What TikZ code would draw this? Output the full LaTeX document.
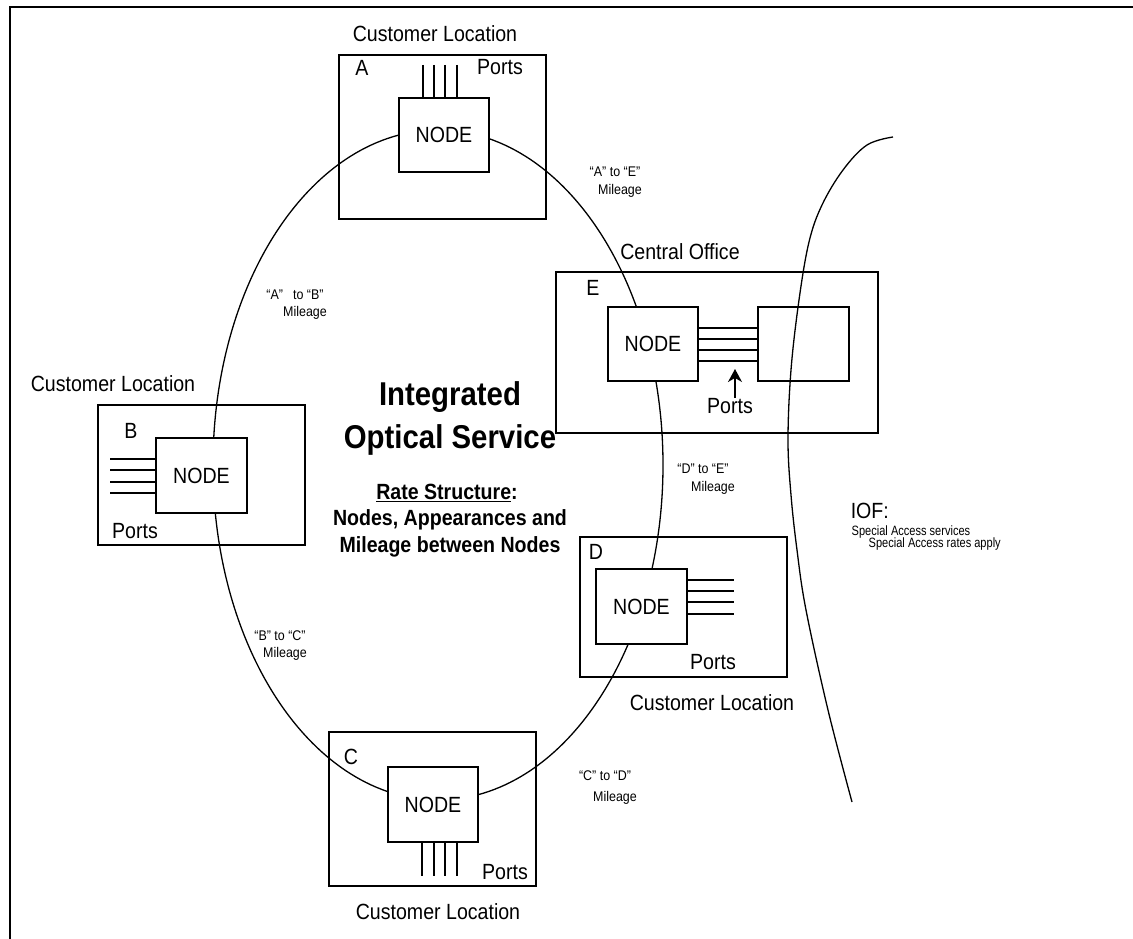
\documentclass[tikz,border=0pt]{standalone}
\usepackage{fontspec}
\setmainfont[FakeStretch=0.89]{Liberation Sans}
\usetikzlibrary{arrows.meta}
\begin{document}
\begin{tikzpicture}[x=1pt,y=-1pt,line width=1.5pt,
  nodebox/.style={draw,fill=white,inner sep=0pt,minimum width=90pt,minimum height=74pt,font=\fontsize{22}{26}\selectfont},
  locbox/.style={draw,inner sep=0pt},
  lbl/.style={inner sep=0pt,font=\fontsize{22}{26}\selectfont},
  title/.style={inner sep=0pt,font=\fontsize{33}{38}\selectfont\bfseries},
  rate/.style={inner sep=0pt,font=\fontsize{22}{26}\selectfont\bfseries},
  mil/.style={inner sep=0pt,font=\fontsize{14}{16}\selectfont},
  small/.style={inner sep=0pt,font=\fontsize{13.5}{15}\selectfont,anchor=west},
  portline/.style={line width=1.3pt}]
\useasboundingbox (0,0) rectangle (1133,939);
% frame
\draw (10,939) -- (10,7) -- (1133,7);
% ring
\draw[line width=1.3pt] (438,465) ellipse [x radius=225pt, y radius=335pt];
% IOF boundary
\draw[line width=1.3pt] plot[smooth,tension=0.6] coordinates {(893,137) (867,145) (843,170) (822,205) (809,242) (799,300) (791,370) (788,440) (791,495) (797,550) (806,610) (828,710) (852,802)};

% location boxes
\node[locbox,minimum width=207pt,minimum height=164pt] (lA) at (442.5,137) {};
\node[locbox,minimum width=322pt,minimum height=161pt] (lE) at (717,352.5) {};
\node[locbox,minimum width=207pt,minimum height=140pt] (lB) at (201.5,475) {};
\node[locbox,minimum width=207pt,minimum height=140pt] (lD) at (683.5,607) {};
\node[locbox,minimum width=207pt,minimum height=154pt] (lC) at (432.5,809) {};

% NODE boxes
\node[nodebox] (nA) at (444,135) {NODE};
\node[nodebox] (nE) at (653,344) {NODE};
\node[nodebox,fill=none,minimum width=91pt] (rE) at (803.5,344) {};
\node[nodebox,minimum width=91pt,minimum height=75pt] (nB) at (201.5,475.5) {NODE};
\node[nodebox,minimum width=91pt,minimum height=75pt] (nD) at (641.5,606.5) {NODE};
\node[nodebox,minimum height=75pt] (nC) at (433,804.5) {NODE};

% port lines
\foreach \x in {423,434,445,457} \draw[portline] (\x,65) -- (\x,0 |- nA.north);
\foreach \y in {328,339,350,361} \draw[portline] (nE.east |- 0,\y) -- (rE.west |- 0,\y);
\foreach \y in {459,470,482,493} \draw[portline] (110,\y) -- (nB.west |- 0,\y);
\foreach \y in {580,591,602,614} \draw[portline] (nD.east |- 0,\y) -- (734,\y);
\foreach \x in {422,434,445,457} \draw[portline] (\x,0 |- nC.south) -- (\x,876);

% labels
\node[lbl] (clA) at (435,34) {Customer Location};
\node[lbl] (tA) at (362,68) {A};
\node[lbl] (pA) at (500,67) {Ports};
\node[lbl] (co) at (680,252) {Central Office};
\node[lbl] (tE) at (593,288) {E};
\node[lbl] (pE) at (730,406) {Ports};
\coordinate (arrowTip) at (735,369);
\draw[line width=1.3pt,-{Stealth[length=13pt,width=14pt,inset=4pt]}] (pE.north -| arrowTip) -- (arrowTip);
\node[lbl] (clB) at (113,384) {Customer Location};
\node[lbl] (tB) at (131,431) {B};
\node[lbl] (pB) at (135,531) {Ports};
\node[lbl] (tD) at (596,552) {D};
\node[lbl] (pD) at (713,662) {Ports};
\node[lbl] (clD) at (712,703) {Customer Location};
\node[lbl] (tC) at (351,757) {C};
\node[lbl] (pC) at (505,872) {Ports};
\node[lbl] (clC) at (438,912) {Customer Location};

% centre text
\node[title] (t1) at (450,397) {Integrated};
\node[title] (t2) at (450,440) {Optical Service};
\node[rate] (r1) at (447,493) {\underline{Rate Structure}:};
\node[rate] (r2) at (450,520) {Nodes, Appearances and};
\node[rate] (r3) at (450,547) {Mileage between Nodes};

% mileage labels
\node[mil] (mAE1) at (615,172) {“A” to “E”};
\node[mil] (mAE2) at (620,191) {Mileage};
\node[mil] (mAB1) at (295,295) {“A”\hspace{10pt}to “B”};
\node[mil] (mAB2) at (305,313) {Mileage};
\node[mil] (mDE1) at (703,469) {“D” to “E”};
\node[mil] (mDE2) at (713,488) {Mileage};
\node[mil] (mBC1) at (280,636) {“B” to “C”};
\node[mil] (mBC2) at (285,654) {Mileage};
\node[mil] (mCD1) at (605,776) {“C” to “D”};
\node[mil] (mCD2) at (615,798) {Mileage};

% IOF
\node[lbl,anchor=west] (iof) at (850,511) {IOF:};
\node[small,xscale=0.92] (sa1) at (851,532) {Special Access services};
\node[small,xscale=0.92] (sa2) at (868,544) {Special Access rates apply};
\end{tikzpicture}
\end{document}
